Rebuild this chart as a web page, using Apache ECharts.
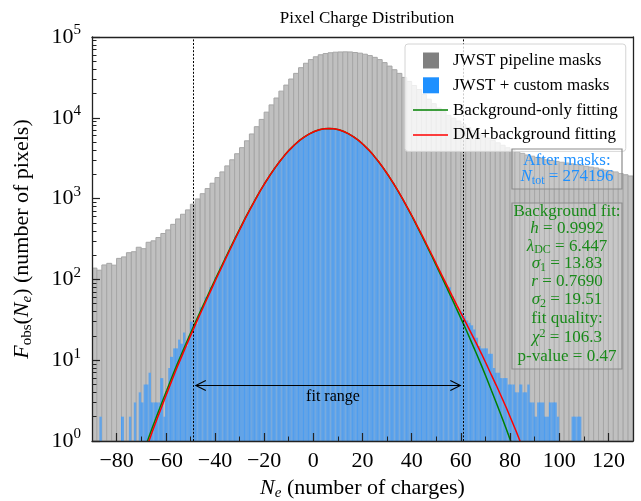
<!DOCTYPE html>
<html><head><meta charset="utf-8">
<script src="https://cdn.jsdelivr.net/npm/echarts@6/dist/echarts.min.js"></script>
<style>html,body{margin:0;padding:0;background:#fff}#c{width:641px;height:501px}</style>
</head><body><div id="c"></div>
<script>
// ---------------- data ----------------
const grayStart = -90, grayWidth = 2;
const grayCounts = [
  138,130,151,158,150,182,190,214,220,250,
  240,288,300,330,370,410,480,560,640,725,
  851,990,1150,1330,1550,1820,2140,2540,3020,3590,
  4270,5190,6310,7760,9550,11750,14450,17580,21380,25400,
  30200,35480,41690,47320,52480,56890,60260,62370,63830,64860,
  65310,65460,65310,64270,63100,61240,58880,55980,52480,48190,
  43650,39360,35480,31620,28180,25120,22390,19500,16980,14960,
  13180,11890,10720,9886,9120,8318,7586,7000,6457,6026,
  5623,5248,4898,4571,4266,4027,3802,3631,3467,3350,
  3236,3126,3020,2951,2884,2818,2754,2692,2630,2570,
  2512,2455,2399,2317,2239,2188,2138,2042,1972,1905
];
const blueStart = -87, blueWidth = 1;
const blueCounts = [
  2,0,0,0,0,0,0,0,0,2,
  0,0,2,0,3,0,4,3,5,5,
  7,3,3,3,3,6,2,4,8,11,
  14,14,18,16,22,15,20,30,27,28,
  34,45,47,60,64,80,88,106,118,143,
  160,190,214,255,286,338,380,445,500,585,
  660,760,855,980,1100,1250,1395,1580,1750,1965,
  2165,2410,2640,2910,3165,3460,3735,4045,4335,4650,
  4940,5255,5530,5825,6080,6345,6560,6780,6940,7110,
  7215,7300,7365,7370,7350,7315,7225,7095,6955,6765,
  6570,6330,6090,5815,5545,5240,4950,4640,4345,4035,
  3750,3448,3178,2898,2652,2396,2178,1950,1762,1566,
  1408,1240,1110,970,866,750,668,575,512,436,
  390,330,295,247,222,185,168,138,126,102,
  94,76,80,62,53,44,40,40,35,31,
  29,27,24,19,15,14,14,14,12,12,
  8,7,7,6,6,6,5,5,5,4,
  4,5,4,4,5,3,3,2,3,3,
  3,2,2,3,3,3,2,0,0,0,
  0,0,2,2,2,2,0
];
const curveX = [
  -73.6,-71.6,-69.6,-67.6,-65.6,-63.6,-61.6,-59.6,-57.6,-55.6,
  -53.6,-51.6,-49.6,-47.6,-45.6,-43.6,-41.6,-39.6,-37.6,-35.6,
  -33.6,-31.6,-29.6,-27.6,-25.6,-23.6,-21.6,-19.6,-17.6,-15.6,
  -13.6,-11.6,-9.6,-7.6,-5.6,-3.6,-1.6,0.4,2.4,4.4,
  6.4,8.4,10.4,12.4,14.4,16.4,18.4,20.4,22.4,24.4,
  26.4,28.4,30.4,32.4,34.4,36.4,38.4,40.4,42.4,44.4,
  46.4,48.4,50.4,52.4,54.4,56.4,58.4,60.4,62.4,64.4,
  66.4,68.4,70.4,72.4,74.4,76.4,78.4,80.4,82.4,84.4,86.4
];
const bgOnlyFit = [
  0.29,0.44,0.66,0.97,1.43,2.07,2.98,4.24,6.07,8.57,
  11.95,16.5,22.8,31.1,42.3,57.3,77.5,104.5,140,188,
  251,334,441,580,755,975,1246,1572,1957,2402,
  2903,3453,4039,4644,5246,5819,6336,6771,7101,7307,
  7377,
  7307,7101,6771,6336,5819,5246,4644,4039,3453,2903,
  2402,1957,1572,1246,975,755,580,441,334,251,
  188,140,104.5,77.5,57.3,42.3,31.1,22.8,16.5,11.95,
  8.57,6.07,4.24,2.98,2.07,1.43,0.97,0.66,0.44,0.29
];
const dmBgFit = [
  0.26,0.39,0.58,0.86,1.27,1.86,2.68,3.86,5.52,7.88,
  11.0,15.3,21.2,29.2,39.8,54.4,73.6,100.3,134.4,182,
  243,327,432,574,747,965,1244,1570,1956,2401,
  2903,3453,4039,4644,5246,5819,6336,6771,7101,7307,
  7377,
  7307,7101,6771,6336,5819,5246,4644,4039,3453,2905,
  2405,1962,1578,1254,985,763,592,450,344,259,
  196,147,110.8,83.7,63.0,47.8,36.4,27.8,21.0,15.9,
  12.0,8.92,6.57,4.89,3.58,2.62,1.87,1.34,0.94,0.65
];
const xTickLabels = [-80,-60,-40,-20,0,20,40,60,80,100,120];
const xMinorTicks = [-90,-70,-50,-30,-10,10,30,50,70,90,110,130];
const yMinorTicks = [];
for (let k = 0; k < 5; k++) for (let m = 2; m <= 9; m++) yMinorTicks.push(m * Math.pow(10, k));
const fitRange = [-49, 61];
const arrowLevel = 5;
const fitLabelPos = [8, 3.5];
const nTot = '274196';
const bgFitLines = [
  'Background fit:',
  '{i|h}{n| = 0.9992}',
  '{i|λ}{sub|DC}{n| = 6.447}',
  '{i|σ}{sub|1}{n| = 13.83}',
  '{i|r}{n| = 0.7690}',
  '{i|σ}{sub|2}{n| = 19.51}',
  'fit quality:',
  '{i|χ}{sup|2}{n| = 106.3}',
  'p-value = 0.47'
];

// ---------------- chart ----------------
const F = "'Liberation Serif','Times New Roman',serif";
const chart = echarts.init(document.getElementById('c'), null, {renderer: 'canvas'});

const grayData = grayCounts.map((v, i) => [grayStart + i * grayWidth, grayStart + (i + 1) * grayWidth, v]);
const blueData = blueCounts.map((v, i) => [blueStart + i * blueWidth, blueStart + (i + 1) * blueWidth, v]);

function grayItem(params, api) {
  const v = api.value(2);
  if (!(v > 0)) return null;
  const a = api.coord([api.value(0), v]), b = api.coord([api.value(1), 1]);
  return {type: 'rect', shape: {x: a[0], y: a[1], width: b[0] - a[0], height: b[1] - a[1]},
    style: {fill: '#c0c0c0', stroke: '#a6a6a6', lineWidth: 1}};
}
function blueItem(params, api) {
  const v = api.value(2), lo = api.value(0);
  if (!(v > 0)) return null;
  const a = api.coord([lo, v]), b = api.coord([api.value(1), 1]);
  const children = [{type: 'rect', shape: {x: a[0], y: a[1], width: b[0] - a[0], height: b[1] - a[1]},
    style: {fill: '#63a4e7'}}];
  if (((lo % 2) + 2) % 2 === 0) {
    children.push({type: 'line', shape: {x1: a[0], y1: a[1], x2: a[0], y2: b[1]},
      style: {stroke: '#4d9df0', lineWidth: 1}});
  }
  return {type: 'group', children};
}

const axisCol = '#222';
const sq = 'path://M0,0M35,16M10,0L26,0L26,16L10,16Z';
const ln = 'path://M0,0M35,16M0,7.25L35,7.25L35,8.75L0,8.75Z';

chart.setOption({
  animation: false,
  title: {text: 'Pixel Charge Distribution', left: 362, top: 5, textAlign: 'center',
    textStyle: {fontFamily: F, fontSize: 17, fontWeight: 'normal', color: '#000'}},
  grid: {left: 92, right: 8, top: 37, bottom: 60, containLabel: false, outerBoundsMode: 'none'},
  legend: {
    orient: 'vertical', left: 405, top: 44, padding: 8, itemGap: 7.8, itemWidth: 35, itemHeight: 16,
    backgroundColor: 'rgba(255,255,255,0.8)', borderColor: '#d4d4d4', borderWidth: 1, borderRadius: 3,
    textStyle: {fontFamily: F, fontSize: 17, color: '#000'}, z: 20, selectedMode: false,
    data: [
      {name: 'JWST pipeline masks', icon: sq, itemStyle: {color: '#808080'}},
      {name: 'JWST + custom masks', icon: sq, itemStyle: {color: '#1e90ff'}},
      {name: 'Background-only fitting', icon: ln, itemStyle: {color: '#008000'}, lineStyle: {width: 0}},
      {name: 'DM+background fitting', icon: ln, itemStyle: {color: '#ff0000'}, lineStyle: {width: 0}}
    ]
  },
  xAxis: [
    {type: 'value', min: -90, max: 130, position: 'bottom', z: 10,
      axisLine: {show: true, onZero: false, lineStyle: {color: axisCol, width: 1.3}},
      axisTick: {show: true, inside: true, length: 8, customValues: xTickLabels, lineStyle: {color: axisCol, width: 1.2}},
      axisLabel: {customValues: xTickLabels, margin: 9, fontFamily: F, fontSize: 22, color: '#000',
        formatter: v => (v < 0 ? '\u2212' + Math.abs(v) : String(v))},
      splitLine: {show: false},
      name: '{i|N}{sub|e}{t| (number of charges)}', nameLocation: 'middle', nameGap: 35,
      nameTextStyle: {fontFamily: F, fontSize: 22, color: '#000', rich: {
        i: {fontFamily: F, fontSize: 22, fontStyle: 'italic', color: '#000'},
        sub: {fontFamily: F, fontSize: 15, fontStyle: 'italic', color: '#000', padding: [10, 0, 0, 0]},
        t: {fontFamily: F, fontSize: 22, color: '#000'}}}},
    {type: 'value', min: -90, max: 130, position: 'bottom', z: 10, gridIndex: 0,
      axisLine: {show: false, onZero: false},
      axisTick: {show: true, inside: true, length: 4.5, customValues: xMinorTicks, lineStyle: {color: axisCol, width: 1}},
      axisLabel: {show: false}, splitLine: {show: false}},
    {type: 'value', min: -90, max: 130, position: 'top', z: 10,
      axisLine: {show: true, onZero: false, lineStyle: {color: axisCol, width: 1.3}},
      axisTick: {show: false}, axisLabel: {show: false}, splitLine: {show: false}}
  ],
  yAxis: [
    {type: 'log', logBase: 10, min: 1, max: 100000, position: 'left', z: 10,
      axisLine: {show: true, onZero: false, lineStyle: {color: axisCol, width: 1.3}},
      axisTick: {show: true, inside: true, length: 8, lineStyle: {color: axisCol, width: 1.2}},
      axisLabel: {margin: 11, formatter: v => '{b|10}{s|' + Math.round(Math.log10(v)) + '}',
        rich: {b: {fontFamily: F, fontSize: 22, color: '#000'},
               s: {fontFamily: F, fontSize: 15, color: '#000', padding: [0, 0, 13, 0]}}},
      splitLine: {show: false},
      name: '{i|F}{sub|obs}{t|(}{i|N}{subi|e}{t|) (number of pixels)}', nameLocation: 'middle', nameGap: 57,
      nameTextStyle: {fontFamily: F, fontSize: 22, color: '#000', rich: {
        i: {fontFamily: F, fontSize: 22, fontStyle: 'italic', color: '#000'},
        sub: {fontFamily: F, fontSize: 15, color: '#000', padding: [10, 0, 0, 0]},
        subi: {fontFamily: F, fontSize: 15, fontStyle: 'italic', color: '#000', padding: [10, 0, 0, 0]},
        t: {fontFamily: F, fontSize: 22, color: '#000'}}}},
    {type: 'log', logBase: 10, min: 1, max: 100000, position: 'left', z: 10, gridIndex: 0,
      axisLine: {show: false, onZero: false},
      axisTick: {show: true, inside: true, length: 4.5, customValues: yMinorTicks, lineStyle: {color: axisCol, width: 1}},
      axisLabel: {show: false}, splitLine: {show: false}},
    {type: 'log', logBase: 10, min: 1, max: 100000, position: 'right', z: 10,
      axisLine: {show: true, onZero: false, lineStyle: {color: axisCol, width: 1.3}},
      axisTick: {show: false}, axisLabel: {show: false}, splitLine: {show: false}}
  ],
  series: [
    {name: 'JWST pipeline masks', type: 'custom', renderItem: grayItem, data: grayData, clip: true,
      encode: {x: [0, 1], y: 2}, xAxisIndex: 0, yAxisIndex: 0, z: 2, itemStyle: {color: '#808080'}, silent: true},
    {name: 'JWST + custom masks', type: 'custom', renderItem: blueItem, data: blueData, clip: true,
      encode: {x: [0, 1], y: 2}, xAxisIndex: 0, yAxisIndex: 0, z: 3, itemStyle: {color: '#1e90ff'}, silent: true},
    {name: 'Background-only fitting', type: 'line', data: curveX.map((x, i) => [x, bgOnlyFit[i]]),
      xAxisIndex: 0, yAxisIndex: 0, showSymbol: false, symbol: 'none', smooth: false, clip: true, z: 4,
      lineStyle: {color: '#008000', width: 1.5}, itemStyle: {color: '#008000'}, silent: true,
      markLine: {silent: true, symbol: 'none', label: {show: false},
        lineStyle: {color: '#000', width: 1, type: [2, 1.6]},
        data: [{xAxis: fitRange[0]}, {xAxis: fitRange[1]}]}},
    {name: 'DM+background fitting', type: 'line', data: curveX.map((x, i) => [x, dmBgFit[i]]),
      xAxisIndex: 0, yAxisIndex: 0, showSymbol: false, symbol: 'none', smooth: false, clip: true, z: 5,
      lineStyle: {color: '#ff0000', width: 1.5}, itemStyle: {color: '#ff0000'}, silent: true}
  ]
});

// ---------- annotations positioned through the chart's scales ----------
const pL = chart.convertToPixel({xAxisIndex: 0, yAxisIndex: 0}, [fitRange[0], arrowLevel]);
const pR = chart.convertToPixel({xAxisIndex: 0, yAxisIndex: 0}, [fitRange[1], arrowLevel]);
const pT = chart.convertToPixel({xAxisIndex: 0, yAxisIndex: 0}, fitLabelPos);
const ay = Math.round(pL[1]) + 0.5, xl = pL[0] + 3, xr = pR[0] - 3;
const blue = '#1e90ff', green = '#1a8a1a';
const subRich = (c) => ({
  i: {fontFamily: F, fontSize: 17, fontStyle: 'italic', fill: c},
  n: {fontFamily: F, fontSize: 17, fill: c},
  sub: {fontFamily: F, fontSize: 12, fill: c, padding: [8, 0, 0, 0]},
  sup: {fontFamily: F, fontSize: 12, fill: c, padding: [0, 0, 9, 0]}
});
const bgYs = [211.7, 228.8, 246.3, 264, 282, 300, 318.3, 338, 356.7];
const els = [
  {type: 'line', shape: {x1: xl, y1: ay, x2: xr, y2: ay}, style: {stroke: '#000', lineWidth: 1.1}, z: 50},
  {type: 'polyline', shape: {points: [[xl + 10, ay - 5], [xl, ay], [xl + 10, ay + 5]]}, style: {stroke: '#000', fill: null, lineWidth: 1.1}, z: 50},
  {type: 'polyline', shape: {points: [[xr - 10, ay - 5], [xr, ay], [xr - 10, ay + 5]]}, style: {stroke: '#000', fill: null, lineWidth: 1.1}, z: 50},
  {type: 'text', x: pT[0], y: pT[1], z: 50, style: {text: 'fit range', font: '16px ' + F, fill: '#000', align: 'center', verticalAlign: 'middle'}},
  {type: 'rect', shape: {x: 512, y: 149, width: 110, height: 40}, style: {fill: 'rgba(255,255,255,0.12)', stroke: '#8c8c8c', lineWidth: 1.2}, z: 50},
  {type: 'text', x: 567, y: 160.5, z: 51, style: {text: 'After masks:', font: '17px ' + F, fill: blue, align: 'center', verticalAlign: 'middle'}},
  {type: 'text', x: 567, y: 177, z: 51, style: {text: '{i|N}{sub|tot}{n| = ' + nTot + '}', rich: subRich(blue), align: 'center', verticalAlign: 'middle', fill: blue, font: '17px ' + F}},
  {type: 'rect', shape: {x: 512, y: 203, width: 110, height: 166}, style: {fill: 'rgba(255,255,255,0.12)', stroke: '#8c8c8c', lineWidth: 1.2}, z: 50}
];
bgFitLines.forEach((t, i) => {
  els.push({type: 'text', x: 567, y: bgYs[i], z: 51,
    style: {text: t, rich: subRich(green), font: '17px ' + F, fill: green, align: 'center', verticalAlign: 'middle'}});
});
chart.setOption({graphic: {elements: els}});
</script>
</body></html>
